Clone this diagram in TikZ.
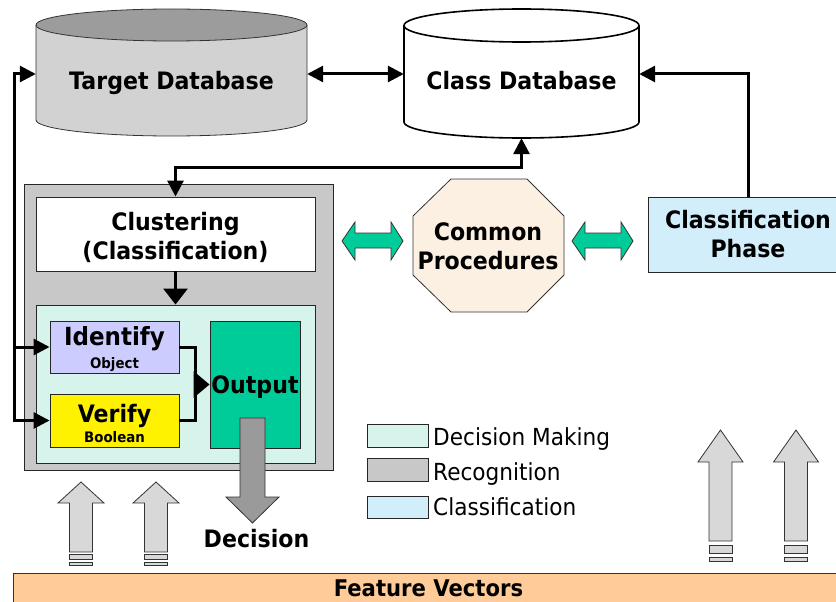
\documentclass[tikz,border=0pt]{standalone}
\usepackage{fontspec}
\setmainfont{DejaVu Sans}[FakeStretch=0.92]
\usetikzlibrary{arrows.meta}
\definecolor{recog}{HTML}{C8C8C8}
\definecolor{decis}{HTML}{D6F4EC}
\definecolor{classif}{HTML}{D2EEFB}
\definecolor{tdbtop}{HTML}{9C9C9C}
\definecolor{tdbbody}{HTML}{D2D2D2}
\definecolor{octfill}{HTML}{FBF0E2}
\definecolor{mint}{HTML}{00CC99}
\definecolor{lavender}{HTML}{CCCCFF}
\definecolor{peach}{HTML}{FFCC99}
\definecolor{darkchk}{HTML}{9A9A9A}
\definecolor{lightchk}{HTML}{D8D8D8}
\begin{document}
\begin{tikzpicture}[x=1pt,y=-1pt,
  >={Triangle[length=16pt,width=16pt]},
  link/.style={line width=3pt},
  frame/.style={draw=black!85, line width=0.9pt, inner sep=0pt},
  outline/.style={draw=black!80, line width=0.8pt},
  bigtxt/.style={font=\fontsize{24}{29}\selectfont\bfseries},
  onecap/.style={text height=17.5pt, text depth=0pt},
  plain/.style={font=\fontsize{23.5}{28}\selectfont, inner sep=0pt, anchor=base west},
]
\useasboundingbox (0,0) rectangle (836,602);

% ---- databases ----
\fill[tdbbody] (36,25) -- (36,120) arc[start angle=180,end angle=0,x radius=135.5,y radius=16]
  -- (307,25) arc[start angle=0,end angle=180,x radius=135.5,y radius=16] -- cycle;
\draw[outline] (36,25) -- (36,120) arc[start angle=180,end angle=0,x radius=135.5,y radius=16] -- (307,25);
\draw[outline, fill=tdbtop] (171.5,25) ellipse[x radius=135.5, y radius=16];
\node[bigtxt, inner sep=0pt, minimum width=271pt, minimum height=128pt,
  text height=32pt, text depth=0pt] (tdb) at (171.5,74) {Target Database};

\fill[white] (404,25.5) -- (404,122) arc[start angle=180,end angle=0,x radius=117.5,y radius=16]
  -- (639,25.5) -- cycle;
\draw[line width=1.6pt] (404,25.5) -- (404,122) arc[start angle=180,end angle=0,x radius=117.5,y radius=16] -- (639,25.5);
\draw[line width=1.6pt, fill=white] (521.5,25.5) ellipse[x radius=117.5, y radius=16.5];
\node[bigtxt, inner sep=0pt, minimum width=235pt, minimum height=128pt,
  text height=32pt, text depth=0pt] (cdb) at (521.5,74) {Class Database};

% ---- recognition block ----
\node[frame, fill=recog, minimum width=309pt, minimum height=286pt] (rec) at (178.5,327) {};
\node[frame, fill=white, minimum width=279pt, minimum height=74pt, bigtxt, align=center,
  text height=50pt, text depth=0pt]
  (clu) at (175.5,234) {Clustering\\(Classification)};
\node[frame, fill=decis, minimum width=279pt, minimum height=158pt] (inner) at (175.5,384) {};
\node[frame, fill=lavender, minimum width=129pt, minimum height=52pt, align=center, font=\bfseries,
  text height=42pt, text depth=0pt]
  (idf) at (114.5,347) {\fontsize{25}{21}\selectfont Identify\\[5pt]\fontsize{14.5}{21}\selectfont Object};
\node[frame, fill=yellow, minimum width=129pt, minimum height=53pt, align=center, font=\bfseries,
  text height=43pt, text depth=0pt]
  (vfy) at (114.5,420.5) {\fontsize{24}{20}\selectfont Verify\\[2pt]\fontsize{14.5}{20}\selectfont Boolean};
\node[frame, fill=mint, minimum width=90pt, minimum height=127pt, bigtxt, onecap]
  (out) at (255,384.5) {Output};

% ---- common procedures and classification phase ----
\draw[outline, fill=octfill] (451,179) -- (527,179) -- (564,216) -- (564,275) -- (527,312)
  -- (451,312) -- (413,275) -- (413,216) -- cycle;
\node[bigtxt, align=center, inner sep=0pt, text height=46pt, text depth=0pt]
  (cp) at (488,246) {Common\\Procedures};
\node[frame, fill=classif, minimum width=200pt, minimum height=75pt, bigtxt, align=center,
  text height=45pt, text depth=0pt]
  (cph) at (748,234.5) {Classification\\Phase};

\foreach \a in {342,572}{
  \draw[outline, fill=mint] (\a,241) -- ++(13,-19) -- ++(0,11) -- ++(36,0) -- ++(0,-11)
    -- ++(12,19) -- ++(-12,19) -- ++(0,-12) -- ++(-36,0) -- ++(0,12) -- cycle;
}

% ---- connectors ----
\draw[link,<->] (tdb.east) -- (cdb.west);
\draw[link,->] (cph.north) |- (cdb.east);
\draw[link,<->] (cdb.south) -- ++(0,29) -| (clu.north);
\draw[link,->,>={Triangle[length=16pt,width=24pt]}] (clu.south) -- (inner.north);
\coordinate (bus) at (14,0);
\draw[link,<->] (tdb.west) -| (bus |- vfy.west) -- (vfy.west);
\draw[link,->] (bus |- idf.west) -- (idf.west);
\coordinate (mrg) at (195,384.5);
\draw[link] (idf.east) -| (mrg);
\draw[link] (vfy.east) -| (mrg);
\draw[link,->,>={Triangle[length=16pt,width=26pt]}] (mrg) -- (out.west);

% ---- decision output arrow ----
\draw[outline, fill=darkchk] (240,418) -- (265,418) -- (265,497) -- (279,497) -- (252.5,523)
  -- (226,497) -- (240,497) -- cycle;
\node[bigtxt, anchor=base, inner sep=0pt] (dec) at (256.5,547) {Decision};

% ---- legend ----
\node[frame, fill=decis, minimum width=61pt, minimum height=23pt] (lg1) at (397.5,435.5) {};
\node[frame, fill=recog, minimum width=61pt, minimum height=23pt] (lg2) at (397.5,469.5) {};
\node[frame, fill=classif, minimum width=61pt, minimum height=22pt] (lg3) at (397.5,507) {};
\node[plain] (lt1) at (433,445) {Decision Making};
\node[plain] (lt2) at (433,480) {Recognition};
\node[plain] (lt3) at (433,515) {Classification};

% ---- feature vector inputs ----
\foreach \c in {81,156}{
  \draw[outline, fill=lightchk] (\c,482) -- (\c+23,503) -- (\c+11.5,503) -- (\c+11.5,552)
    -- (\c-11.5,552) -- (\c-11.5,503) -- (\c-23,503) -- cycle;
  \draw[outline, fill=lightchk] (\c-11.5,554.5) rectangle (\c+11.5,559.5);
  \draw[outline, fill=lightchk] (\c-11.5,562) rectangle (\c+11.5,565);
}
\foreach \c in {720.5,796}{
  \draw[outline, fill=lightchk] (\c,430) -- (\c+22.5,462) -- (\c+11.5,462) -- (\c+11.5,541)
    -- (\c-11.5,541) -- (\c-11.5,462) -- (\c-22.5,462) -- cycle;
  \draw[outline, fill=lightchk] (\c-11.5,545) rectangle (\c+11.5,553);
  \draw[outline, fill=lightchk] (\c-11.5,557) rectangle (\c+11.5,561);
}

\node[draw=black!65!brown, line width=0.9pt, fill=peach, inner sep=0pt, anchor=north west,
  minimum width=830pt, minimum height=30pt, font=\fontsize{23}{26}\selectfont\bfseries,
  text height=16.5pt, text depth=0pt] (fv) at (13,573) {Feature Vectors};
\end{tikzpicture}
\end{document}
